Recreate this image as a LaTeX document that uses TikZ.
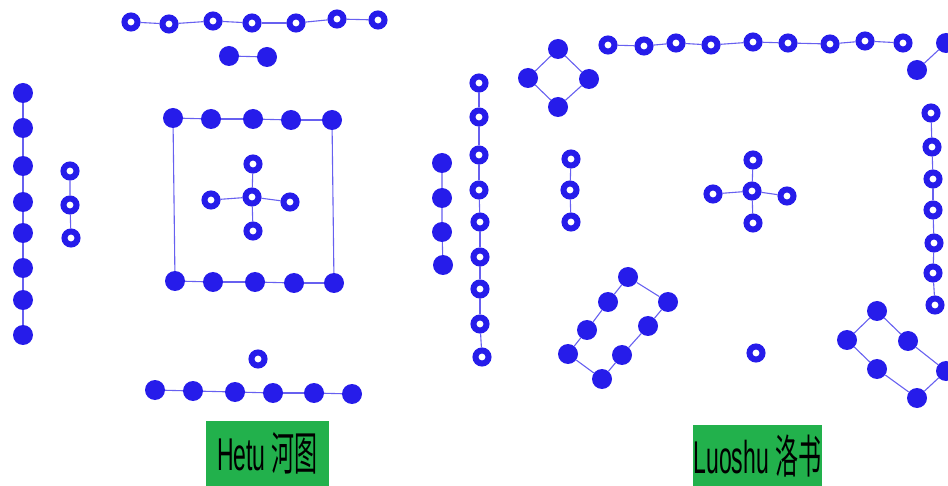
\documentclass[tikz,border=0pt]{standalone}
\usepackage{fontspec}
\setmainfont{Liberation Sans}
\newfontfamily\cjk{Noto Sans CJK SC}
\definecolor{dotblue}{RGB}{38,28,234}
\definecolor{labelgreen}{RGB}{34,177,76}

\begin{document}
\begin{tikzpicture}[
    x=1pt, y=-1pt,
    yin/.style={circle, fill=dotblue, inner sep=0pt, minimum size=20pt},
    yang/.style={circle, draw=dotblue, fill=white, line width=6pt, inner sep=0pt, minimum size=13pt},
    link/.style={draw=dotblue!70, line width=1.1pt},
    title/.style={fill=labelgreen, inner sep=0pt, minimum height=65pt, font=\fontsize{46}{46}\selectfont}
]
\useasboundingbox (0,0) rectangle (948,486);
\clip (0,0) rectangle (948,486);

% ---- Hetu ----
\foreach \x/\y [count=\i] in {131/22,169/24,213/21,252/23,296/23,337/19,378/20}
    \node[yang] (ht\i) at (\x,\y) {};
\foreach \i [count=\j from 2] in {1,...,6}
    \draw[link] (ht\i) -- (ht\j);

\node[yin] (hp1) at (229,56) {};
\node[yin] (hp2) at (267,57) {};
\draw[link] (hp1) -- (hp2);

\foreach \y [count=\i] in {93,128,166,202,233,268,300,335}
    \node[yin] (hl\i) at (23,\y) {};
\foreach \i [count=\j from 2] in {1,...,7}
    \draw[link] (hl\i) -- (hl\j);

\foreach \x/\y [count=\i] in {70/171,70/205,71/238}
    \node[yang] (hc\i) at (\x,\y) {};
\draw[link] (hc1) -- (hc2) -- (hc3);

% square
\foreach \x/\y [count=\i] in {173/118,211/119,253/119,291/120,332/120}
    \node[yin] (hs\i) at (\x,\y) {};
\foreach \x/\y [count=\i] in {175/281,213/282,255/282,294/283,334/283}
    \node[yin] (hb\i) at (\x,\y) {};
\foreach \i [count=\j from 2] in {1,...,4} {
    \draw[link] (hs\i) -- (hs\j);
    \draw[link] (hb\i) -- (hb\j);
}
\draw[link] (hs1) -- (hb1);
\draw[link] (hs5) -- (hb5);

% centre cross
\node[yang] (hx0) at (252,197) {};
\foreach \x/\y [count=\i] in {253/164,211/200,290/202,253/231} {
    \node[yang] (hx\i) at (\x,\y) {};
    \draw[link] (hx0) -- (hx\i);
}

\node[yang] (hone) at (258,359) {};

\foreach \x/\y [count=\i] in {155/390,193/391,235/392,273/393,314/393,352/394}
    \node[yin] (hd\i) at (\x,\y) {};
\foreach \i [count=\j from 2] in {1,...,5}
    \draw[link] (hd\i) -- (hd\j);

\node[title, minimum width=123pt] (hetu) at (267.5,453.5) {\scalebox{0.5}[1]{Hetu {\cjk 河图}}};

% ---- Luoshu ----
\foreach \x/\y [count=\i] in {608/45,644/46,676/43,711/45,753/42,788/43,830/44,865/41,903/43}
    \node[yang] (lt\i) at (\x,\y) {};
\foreach \i [count=\j from 2] in {1,...,8}
    \draw[link] (lt\i) -- (lt\j);

\foreach \x/\y [count=\i] in {558/49,589/79,558/107,528/78}
    \node[yin] (ld\i) at (\x,\y) {};
\draw[link] (ld1) -- (ld2) -- (ld3) -- (ld4) -- (ld1);

\node[yin] (lp1) at (917,70) {};
\node[yin] (lp2) at (946,43) {};
\draw[link] (lp1) -- (lp2);

\foreach \x/\y [count=\i] in {479/83,479/117,479/155,479/190,480/222,480/257,480/289,480/324,482/357}
    \node[yang] (ll\i) at (\x,\y) {};
\foreach \i [count=\j from 2] in {1,...,8}
    \draw[link] (ll\i) -- (ll\j);

\foreach \x/\y [count=\i] in {442/163,442/198,442/232,443/265}
    \node[yin] (lf\i) at (\x,\y) {};
\draw[link] (lf1) -- (lf2) -- (lf3) -- (lf4);

\foreach \x/\y [count=\i] in {571/159,570/190,571/222}
    \node[yang] (lc\i) at (\x,\y) {};
\draw[link] (lc1) -- (lc2) -- (lc3);

% centre cross
\node[yang] (lx0) at (752,191) {};
\foreach \x/\y [count=\i] in {753/160,713/194,787/196,753/223} {
    \node[yang] (lx\i) at (\x,\y) {};
    \draw[link] (lx0) -- (lx\i);
}

\foreach \x/\y [count=\i] in {931/113,932/147,933/179,933/210,934/243,933/273,935/305}
    \node[yang] (lr\i) at (\x,\y) {};
\foreach \i [count=\j from 2] in {1,...,6}
    \draw[link] (lr\i) -- (lr\j);

% tilted rings
\foreach \x/\y [count=\i] in {628/277,608/302,587/330,568/354,602/379,622/355,648/326,668/302}
    \node[yin] (lq\i) at (\x,\y) {};
\foreach \i [evaluate=\i as \j using {int(mod(\i,8)+1)}] in {1,...,8}
    \draw[link] (lq\i) -- (lq\j);

\foreach \x/\y [count=\i] in {877/311,908/341,946/371,917/398,877/369,847/340}
    \node[yin] (lk\i) at (\x,\y) {};
\foreach \i [evaluate=\i as \j using {int(mod(\i,6)+1)}] in {1,...,6}
    \draw[link] (lk\i) -- (lk\j);

\node[yang] (lone) at (756,353) {};

\node[title, minimum width=129pt, minimum height=61pt] (luoshu) at (757.5,455.5) {\scalebox{0.5}[1]{Luoshu {\cjk 洛书}}};
\end{tikzpicture}
\end{document}
